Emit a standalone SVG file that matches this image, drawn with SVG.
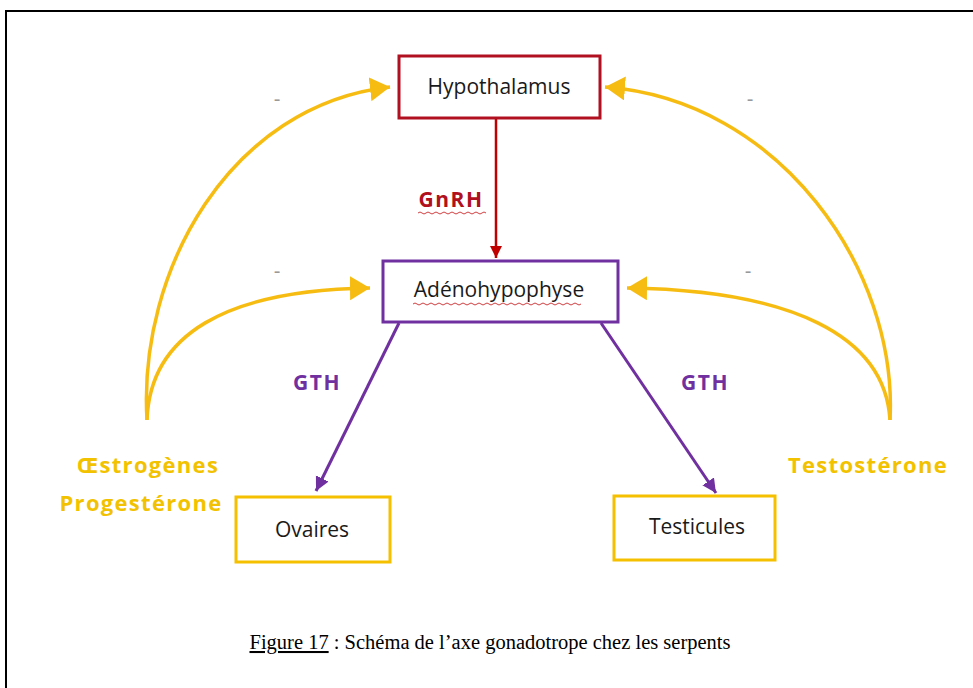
<svg xmlns="http://www.w3.org/2000/svg" width="973" height="688" viewBox="0 0 973 688">
<style>
.box{fill:#fff;stroke-width:3}
.lbl{font-family:"Open Sans","Liberation Sans",sans-serif;font-size:21px;fill:#1a1a1a;text-anchor:middle}
.hor{font-family:"Open Sans","Liberation Sans",sans-serif;font-size:22px;font-weight:bold;fill:#f2c200;letter-spacing:1.3px}
.gth{font-family:"Open Sans","Liberation Sans",sans-serif;font-size:21px;font-weight:bold;fill:#7030a0;letter-spacing:1.5px}
.fb{fill:none;stroke:#f7bc12;stroke-width:3.5}
.minus{font-family:"Liberation Sans",sans-serif;font-size:20px;fill:#999}
</style>
<defs>
<marker id="ag" markerUnits="userSpaceOnUse" markerWidth="24" markerHeight="26" refX="20" refY="12" orient="auto"><path d="M0,0 L20,12 L0,24 Z" fill="#f7bc12"/></marker>
<marker id="ar" markerUnits="userSpaceOnUse" markerWidth="14" markerHeight="14" refX="12" refY="6" orient="auto"><path d="M0,0 L12,6 L0,12 Z" fill="#c00000"/></marker>
<marker id="ap" markerUnits="userSpaceOnUse" markerWidth="16" markerHeight="16" refX="14" refY="7" orient="auto"><path d="M0,0 L14,7 L0,14 Z" fill="#7030a0"/></marker>
</defs>
<rect x="6" y="11" width="990" height="700" fill="#fff" stroke="#000" stroke-width="2"/>
<g id="connectors">
<line x1="496" y1="119" x2="496" y2="258" stroke="#c00000" stroke-width="2.5" marker-end="url(#ar)"/>
<line x1="399" y1="323" x2="316" y2="491" stroke="#7030a0" stroke-width="3" marker-end="url(#ap)"/>
<line x1="601" y1="323" x2="716" y2="493" stroke="#7030a0" stroke-width="3" marker-end="url(#ap)"/>
<path class="fb" d="M147,420 C138,270 230,105 390,87" marker-end="url(#ag)"/>
<path class="fb" d="M147,420 C150,335 225,290 370,288" marker-end="url(#ag)"/>
<path class="fb" d="M890,420 C898,270 780,100 605,87" marker-end="url(#ag)"/>
<path class="fb" d="M890,420 C885,335 790,290 627,288" marker-end="url(#ag)"/>
<text class="minus" x="277" y="106" text-anchor="middle">-</text>
<text class="minus" x="277" y="278" text-anchor="middle">-</text>
<text class="minus" x="750" y="106" text-anchor="middle">-</text>
<text class="minus" x="748" y="278" text-anchor="middle">-</text>
<text x="451" y="207" text-anchor="middle" font-family="'Open Sans','Liberation Sans',sans-serif" font-size="21" font-weight="bold" fill="#b01020" letter-spacing="1.5">GnRH</text>
<path d="M418,213 q2,-2 4,0 t4,0 t4,0 t4,0 t4,0 t4,0 t4,0 t4,0 t4,0 t4,0 t4,0 t4,0 t4,0 t4,0 t4,0 t4,0 t4,0" fill="none" stroke="#d04040" stroke-width="1"/>
<text class="gth" x="317" y="390" text-anchor="middle">GTH</text>
<text class="gth" x="705" y="390" text-anchor="middle">GTH</text>
</g>
<g id="hypothalamus">
<rect class="box" x="399" y="56" width="201" height="62" stroke="#b01020"/>
<text class="lbl" x="499" y="94">Hypothalamus</text>
</g>
<g id="adenohypophyse">
<rect class="box" x="383" y="261" width="235" height="61" stroke="#7030a0"/>
<text class="lbl" x="499" y="297">Adénohypophyse</text>
<path d="M413,304 q2,-2 4,0 t4,0 t4,0 t4,0 t4,0 t4,0 t4,0 t4,0 t4,0 t4,0 t4,0 t4,0 t4,0 t4,0 t4,0 t4,0 t4,0 t4,0 t4,0 t4,0 t4,0 t4,0 t4,0 t4,0 t4,0 t4,0 t4,0 t4,0 t4,0 t4,0 t4,0 t4,0 t4,0 t4,0 t4,0 t4,0 t4,0 t4,0 t4,0 t4,0 t4,0 t4,0" fill="none" stroke="#d04040" stroke-width="1"/>
</g>
<g id="ovaires">
<rect class="box" x="236" y="497" width="154" height="65" stroke="#f5c000"/>
<text class="lbl" x="312" y="537">Ovaires</text>
</g>
<g id="testicules">
<rect class="box" x="614" y="496" width="161" height="64" stroke="#f5c000"/>
<text class="lbl" x="697" y="534">Testicules</text>
</g>
<g id="oestrogenes">
<text class="hor" x="148" y="473" text-anchor="middle">Œstrogènes</text>
<text class="hor" x="141" y="511" text-anchor="middle">Progestérone</text>
</g>
<g id="testosterone">
<text class="hor" x="868" y="473" text-anchor="middle">Testostérone</text>
</g>
<g id="caption">
<text x="490" y="649" text-anchor="middle" font-family="'Liberation Serif',serif" font-size="20.5" fill="#000"><tspan text-decoration="underline">Figure 17</tspan> : Schéma de l’axe gonadotrope chez les serpents</text>
</g>
</svg>
